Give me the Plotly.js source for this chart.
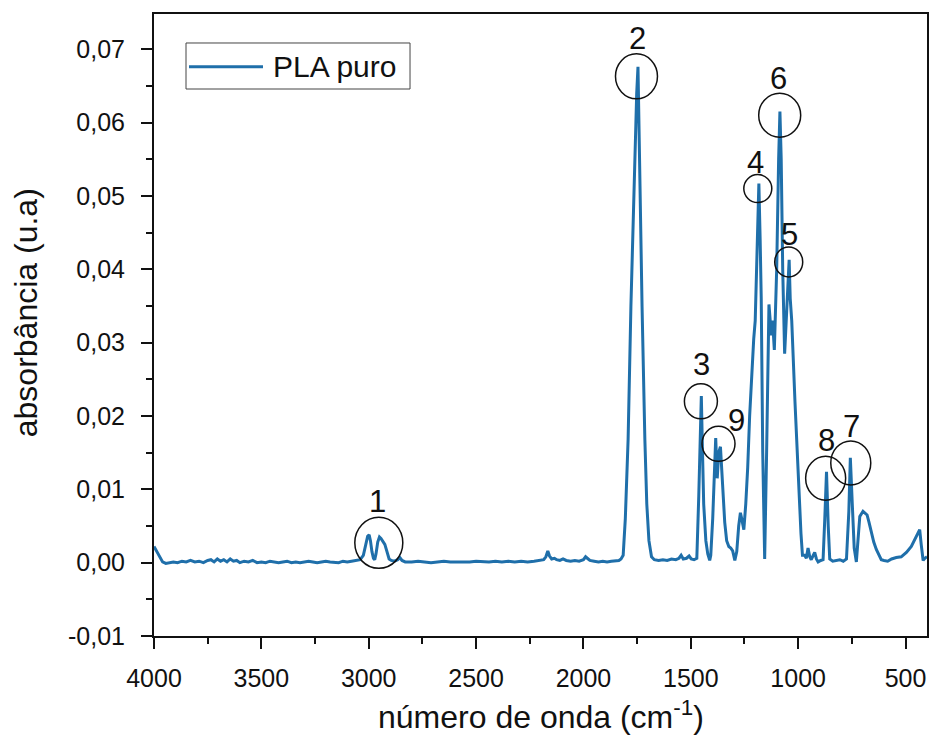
<!DOCTYPE html>
<html>
<head>
<meta charset="utf-8">
<script src="https://cdn.plot.ly/plotly-3.0.1.min.js"></script>
<style>html,body{margin:0;padding:0;background:#fff;}#chart{width:931px;height:738px;}</style>
</head>
<body>
<div id="chart"></div>
<script>
// Wavenumber (cm-1) and absorbance (PLA puro)
const wavenumber = [
4000,3990,3975,3960,3945,3930,3910,3890,3870,3850,3830,3810,3790,3770,3750,3735,3720,3705,3690,3675,3660,3645,3630,3615,3600,3580,3560,3540,3520,3500,3480,3460,3440,3420,3400,3380,3360,3340,3320,3300,3280,3260,3240,3220,3200,3180,3160,3140,3120,3100,3080,3060,3040,3025,3015,3005,2998,2992,2985,2978,2972,2966,2958,2950,2943,2935,2925,2915,2905,2895,2880,2865,2855,2845,2830,
2800,2770,2740,2710,2680,2650,2620,2590,2560,2530,2500,2470,2440,2410,2380,2350,2320,2290,2260,2230,2200,2185,2175,2166,2158,2148,2135,2125,2110,2095,2080,2060,2040,2020,2000,1990,1982,1970,1950,1930,1910,1890,1870,1850,1835,1825,1815,1805,1798,1792,1779,1764,1752,1746,1738,1727,1714,1705,1695,1683,
1670,1650,1630,1610,1590,1570,1555,1545,1535,1520,1508,1498,1485,1472,1463,1456,1451,1447,1440,1430,1421,1412,1407,1398,1389,1384,1377,1370,1362,1356,1351,1342,1333,1323,1314,1305,1295,1286,1277,1269,1263,1253,1244,1235,1226,1216,1207,1200,1193,1186,1183,1177,1172,1165,1156,1147,1140,1136,1125,1119,1111,1100,1091,1085,1079,1072,1063,1054,1042,1037,1030,1015,1001,987,980,
970,962,954,946,939,930,923,915,907,895,884,876,868,860,853,839,825,806,790,775,764,757,748,739,729,722,713,698,690,679,670,659,648,636,625,613,600,583,565,543,520,496,473,457,442,434,427,418,410,400
];
const absorbance = [
0.0022,0.0017,0.0008,0.0001,-0.0001,0.0000,0.0001,0.0000,0.0002,0.0001,0.0003,0.0001,0.0002,0.0000,0.0003,0.0004,0.0001,0.0005,0.0002,0.0004,0.0001,0.0005,0.0002,0.0003,0.0000,0.0002,0.0001,0.0003,0.0000,0.0001,0.0000,0.0002,0.0001,0.0000,0.0001,0.0002,0.0000,0.0001,0.0000,0.0001,0.0002,0.0001,0.0000,0.0001,0.0002,0.0001,0.0001,0.0000,0.0002,0.0001,0.0002,0.0003,0.0004,0.0010,0.0022,0.0036,0.0038,0.0030,0.0015,0.0006,0.0004,0.0012,0.0028,0.0035,0.0033,0.0030,0.0025,0.0015,0.0005,0.0003,0.0002,0.0004,0.0007,0.0003,0.0001,
0.0001,0.0002,0.0001,0.0000,0.0001,0.0002,0.0001,0.0001,0.0000,0.0001,0.0002,0.0001,0.0001,0.0002,0.0001,0.0002,0.0001,0.0002,0.0001,0.0002,0.0003,0.0004,0.0008,0.0016,0.0009,0.0005,0.0006,0.0004,0.0003,0.0005,0.0003,0.0002,0.0003,0.0002,0.0004,0.0008,0.0006,0.0003,0.0002,0.0001,0.0002,0.0001,0.0002,0.0002,0.0003,0.0005,0.0010,0.0060,0.0110,0.0168,0.0349,0.0531,0.0640,0.0676,0.0531,0.0349,0.0168,0.0080,0.0030,0.0008,
0.0004,0.0003,0.0004,0.0003,0.0005,0.0004,0.0006,0.0010,0.0005,0.0006,0.0009,0.0005,0.0004,0.0006,0.0090,0.0180,0.0227,0.0170,0.0080,0.0030,0.0012,0.0003,0.0010,0.0060,0.0140,0.0170,0.0115,0.0150,0.0158,0.0130,0.0095,0.0055,0.0030,0.0022,0.0020,0.0016,0.0003,0.0015,0.0050,0.0068,0.0060,0.0045,0.0080,0.0130,0.0200,0.0267,0.0305,0.0330,0.0400,0.0480,0.0517,0.0440,0.0360,0.0150,0.0005,0.0150,0.0300,0.0352,0.0310,0.0330,0.0290,0.0400,0.0550,0.0615,0.0550,0.0400,0.0285,0.0350,0.0413,0.0360,0.0330,0.0220,0.0120,0.0040,0.0010,
0.0010,0.0006,0.0020,0.0008,0.0004,0.0010,0.0014,0.0005,0.0001,0.0003,0.0004,0.0060,0.0124,0.0050,0.0005,0.0002,0.0003,0.0004,0.0002,0.0005,0.0070,0.0143,0.0080,0.0020,0.0001,0.0030,0.0063,0.0070,0.0068,0.0065,0.0055,0.0041,0.0028,0.0018,0.0010,0.0004,0.0003,0.0002,0.0005,0.0007,0.0008,0.0014,0.0022,0.0032,0.0040,0.0045,0.0025,0.0003,0.0006,0.0008
];

// Peak labels and the circles around them
const peakLabels = ["1","2","3","4","5","6","7","8","9"];
const labelWn   = [2958, 1748, 1450, 1199, 1039, 1090, 752, 868, 1286];
const labelAbs  = [0.0083, 0.0715, 0.0270, 0.0545, 0.0448, 0.0660, 0.0186, 0.0167, 0.0194];
const circleWn  = [2953, 1753, 1453, 1188, 1044, 1086, 755, 872, 1371];
const circleAbs = [0.0027, 0.0663, 0.0220, 0.0510, 0.0410, 0.0610, 0.0136, 0.0115, 0.0162];
const circleRx  = [24, 21, 16.5, 14, 14, 21, 20, 20, 16.5];
const circleRy  = [25.5, 22.5, 17.5, 14, 15, 22, 22, 22, 17.5];

const xTickVals = [4000,3500,3000,2500,2000,1500,1000,500];
const yTickVals = [-0.01,0,0.01,0.02,0.03,0.04,0.05,0.06,0.07];
const yTickText = ["-0,01","0,00","0,01","0,02","0,03","0,04","0,05","0,06","0,07"];

const seriesName = "PLA puro";
const lineColor = "#1f6faa";
const FONT = "Liberation Sans, Arial, sans-serif";

const trace = {
  x: wavenumber, y: absorbance, type: "scatter", mode: "lines",
  name: seriesName, line: {color: lineColor, width: 3}, showlegend: false,
  hoverinfo: "skip"
};

const shapes = [];
const annotations = [];
for (let i = 0; i < peakLabels.length; i++) {
  shapes.push({
    type: "circle", xref: "x", yref: "y",
    xsizemode: "pixel", ysizemode: "pixel",
    xanchor: circleWn[i], yanchor: circleAbs[i],
    x0: -circleRx[i], x1: circleRx[i], y0: -circleRy[i], y1: circleRy[i],
    line: {color: "#111", width: 1.5}
  });
  annotations.push({
    x: labelWn[i], y: labelAbs[i], xref: "x", yref: "y",
    text: peakLabels[i], showarrow: false,
    xanchor: "center", yanchor: "middle",
    font: {family: FONT, size: 31, color: "#111"}
  });
}

// Legend box drawn in paper space
shapes.push({type: "rect", xref: "paper", yref: "paper", x0: 0.0414, x1: 0.3312, y0: 0.8794, y1: 0.9534,
  line: {color: "#444", width: 1}, fillcolor: "rgba(255,255,255,0)"});
shapes.push({type: "line", xref: "paper", yref: "paper", x0: 0.0453, x1: 0.1410, y0: 0.9153, y1: 0.9153,
  line: {color: lineColor, width: 3}});
annotations.push({x: 0.1520, y: 0.9153, xref: "paper", yref: "paper", xanchor: "left", yanchor: "middle",
  text: seriesName, showarrow: false, font: {family: FONT, size: 30, color: "#111"}});

// Axis titles
annotations.push({x: 0.5, y: -0.1625, xref: "paper", yref: "paper", xanchor: "center", yanchor: "bottom",
  text: "número de onda (cm<sup>-1</sup>)", showarrow: false, font: {family: FONT, size: 32, color: "#111"}});
annotations.push({x: -0.166, y: 0.52, xref: "paper", yref: "paper", xanchor: "center", yanchor: "middle",
  text: "absorbância (u.a)", textangle: -90, showarrow: false, font: {family: FONT, size: 32, color: "#111"}});

const layout = {
  width: 931, height: 738,
  margin: {l: 154, r: 4, t: 14, b: 102, pad: 0},
  paper_bgcolor: "#fff", plot_bgcolor: "#fff",
  font: {family: FONT, color: "#111"},
  showlegend: false,
  xaxis: {
    range: [4000, 400], tickvals: xTickVals, ticks: "outside", ticklen: 11, tickwidth: 2, tickcolor: "#111",
    showline: true, linewidth: 2, linecolor: "#111", mirror: true, showgrid: false, zeroline: false,
    tickfont: {family: FONT, size: 25, color: "#111"}, ticklabelstandoff: 8,
    minor: {dtick: 250, ticks: "outside", ticklen: 6, tickwidth: 2, tickcolor: "#111", showgrid: false}
  },
  yaxis: {
    range: [-0.01, 0.0748], tickvals: yTickVals, ticktext: yTickText, ticks: "outside", ticklen: 11, tickwidth: 2, tickcolor: "#111",
    showline: true, linewidth: 2, linecolor: "#111", mirror: true, showgrid: false, zeroline: false,
    tickfont: {family: FONT, size: 25, color: "#111"}, ticklabelstandoff: 11,
    minor: {dtick: 0.005, ticks: "outside", ticklen: 6, tickwidth: 2, tickcolor: "#111", showgrid: false}
  },
  shapes: shapes,
  annotations: annotations
};

Plotly.newPlot("chart", [trace], layout, {displayModeBar: false, staticPlot: true});
</script>
</body>
</html>
